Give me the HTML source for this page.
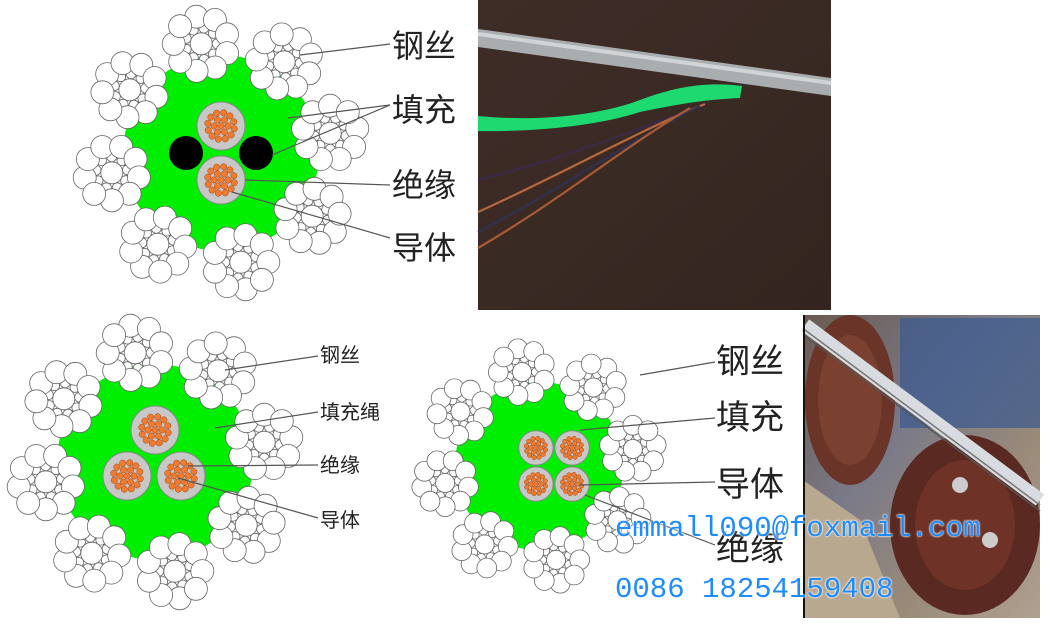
<!DOCTYPE html>
<html><head><meta charset="utf-8"><style>
body{margin:0;width:1053px;height:630px;background:#fff;overflow:hidden;position:relative}
svg{position:absolute;left:0;top:0}
.lb{font-family:"Liberation Sans","Noto Sans CJK SC",sans-serif;fill:#222}
.em{position:absolute;font-family:"Liberation Mono",monospace;color:#1e8cff;font-size:29px;text-shadow:0 0 2px #fff,0 0 2px #fff;white-space:pre;letter-spacing:0px}
</style></head><body>
<svg id="s" width="1053" height="630" viewBox="0 0 1053 630">
<defs>
<linearGradient id="wood" x1="0" y1="0" x2="1" y2="1">
<stop offset="0" stop-color="#3e2c27"/><stop offset="0.5" stop-color="#3a2a24"/><stop offset="1" stop-color="#33241f"/></linearGradient>
<linearGradient id="mach" x1="0" y1="0" x2="1" y2="1">
<stop offset="0" stop-color="#6a5a50"/><stop offset="0.4" stop-color="#7a7a88"/><stop offset="0.7" stop-color="#9a8a78"/><stop offset="1" stop-color="#b0a090"/></linearGradient>
</defs>
<!-- top photo -->
<rect x="478" y="0" width="353" height="310" fill="url(#wood)"/>
<path d="M478,29 L831,78 L831,96 L478,47 Z" fill="#a9adb0"/>
<path d="M478,34 L831,83" stroke="#d0d4d6" stroke-width="4"/>
<path d="M478,116 C540,122 600,115 640,100 C680,85 710,82 742,86 L740,98 C700,100 680,104 640,112 C600,125 540,132 478,131 Z" fill="#1ed870"/>
<g fill="none" stroke-width="2.2">
<path d="M708,103 C650,125 560,160 478,180" stroke="#3a2a48"/>
<path d="M705,104 C640,130 560,175 478,212" stroke="#b8683c"/>
<path d="M700,106 C630,140 560,190 478,232" stroke="#303050"/>
<path d="M690,108 C620,150 560,200 478,248" stroke="#a85a34"/>
</g>
<!-- bottom right photo -->
<rect x="803" y="315" width="237" height="303" fill="url(#mach)"/>
<rect x="900" y="318" width="140" height="110" fill="#3a5a90" opacity="0.7"/>
<path d="M803,480 L803,618 L900,618 L860,520 Z" fill="#b8a890"/>
<ellipse cx="850" cy="400" rx="45" ry="85" fill="#6a3428"/>
<ellipse cx="850" cy="400" rx="32" ry="65" fill="#7a4030"/>
<ellipse cx="965" cy="525" rx="75" ry="90" fill="#5a2a22"/>
<ellipse cx="965" cy="525" rx="50" ry="65" fill="#6e3226"/>
<circle cx="990" cy="540" r="8" fill="#ccc"/><circle cx="960" cy="485" r="8" fill="#ccc"/>
<path d="M805,325 L1040,500" stroke="#d8dce0" stroke-width="14"/>
<path d="M805,330 L1040,505" stroke="#777" stroke-width="1.5"/>
<path d="M805,336 L1040,511" stroke="#555" stroke-width="1.5"/>
<rect x="803" y="315" width="2" height="303" fill="#111"/>
<g id="d"></g>
<g stroke="#555" stroke-width="1.2" fill="none">
<path d="M300,55 L390,44"/><path d="M288,118 L390,105"/><path d="M272,155 L390,105"/><path d="M245,180 L390,185"/><path d="M232,192 L390,238"/>
<path d="M225,370 L318,356"/><path d="M215,428 L318,412"/><path d="M188,466 L318,465"/><path d="M178,478 L318,518"/>
<path d="M640,375 L715,362"/><path d="M580,430 L715,418"/><path d="M580,485 L715,482"/><path d="M585,495 L715,545"/>
</g>
<g class="lb" font-size="32"><text x="392" y="57">钢丝</text><text x="392" y="121">填充</text><text x="392" y="196">绝缘</text><text x="392" y="259">导体</text></g>
<g class="lb" font-size="20"><text x="320" y="362">钢丝</text><text x="320" y="419">填充绳</text><text x="320" y="472">绝缘</text><text x="320" y="527">导体</text></g>
<g class="lb" font-size="34"><text x="716" y="373">钢丝</text><text x="716" y="429">填充</text><text x="716" y="496">导体</text><text x="716" y="560">绝缘</text></g>
</svg>
<div class="em" style="left:615px;top:512px">emmall090@foxmail.com</div>
<div class="em" style="left:615px;top:573px">0086 18254159408</div>
<script>
var g=document.getElementById('d'),h='';
function C(x,y,r,f,s,w){h+='<circle cx="'+x.toFixed(1)+'" cy="'+y.toFixed(1)+'" r="'+r.toFixed(1)+'" fill="'+f+'" stroke="'+(s||'none')+'" stroke-width="'+(w||0)+'"/>';}
function strand(x,y,k,a0){
 C(x,y,11*k,'#fff','#666',0.8);
 for(var i=0;i<9;i++){var a=a0+i*2*Math.PI/9+0.35;C(x+16*k*Math.cos(a),y+16*k*Math.sin(a),5*k,'#fff','#666',0.8);}
 for(var i=0;i<9;i++){var a=a0+i*2*Math.PI/9;C(x+27.5*k*Math.cos(a),y+27.5*k*Math.sin(a),11.5*k,'#fff','#666',0.8);}
}
function cond(x,y,r){C(x,y,r,'#c8c8c8','#888',1);var k=r/24;
 C(x,y,3.2*k,'#f07a30','#a04a10',0.5);
 for(var i=0;i<6;i++){var a=i*Math.PI/3;C(x+7*k*Math.cos(a),y+7*k*Math.sin(a),3.2*k,'#f07a30','#a04a10',0.5);}
 for(var i=0;i<12;i++){var a=i*Math.PI/6+0.2;C(x+13.5*k*Math.cos(a),y+13.5*k*Math.sin(a),3.2*k,'#f07a30','#a04a10',0.5);}
}
function cable(cx,cy,k,type){
 C(cx,cy,98*k,'#00ee00');
 for(var i=0;i<8;i++){var a=-1.75+i*Math.PI/4;strand(cx+111*k*Math.cos(a),cy+111*k*Math.sin(a),k,a);}
 if(type==2){cond(cx,cy-27*k,24*k);cond(cx,cy+27*k,24*k);C(cx-35*k,cy,17*k,'#000');C(cx+35*k,cy,17*k,'#000');}
 if(type==3){cond(cx,cy-32*k,24*k);cond(cx-28*k,cy+14*k,24*k);cond(cx+26*k,cy+14*k,24*k);}
 if(type==4){var d=21*k;cond(cx-d+15,cy-d,20*k);cond(cx+d+15,cy-d,20*k);cond(cx-d+15,cy+d,20*k);cond(cx+d+15,cy+d,20*k);}
}
cable(221,153,1,2);
cable(155,462,1,3);
cable(539,466,0.86,4);
g.innerHTML=h;
</script>
</body></html>
